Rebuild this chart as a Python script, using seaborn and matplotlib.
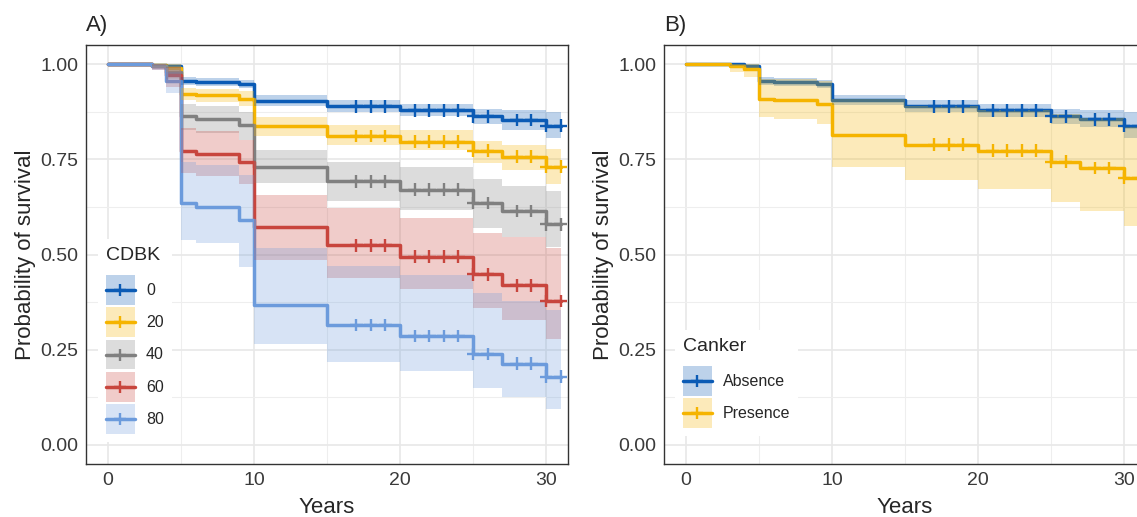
import numpy as np
import pandas as pd
import seaborn as sns
import matplotlib.pyplot as plt
from matplotlib.lines import Line2D
from matplotlib.patches import Patch
from matplotlib.legend_handler import HandlerLine2D
from matplotlib.ticker import MultipleLocator, FormatStrFormatter

# step times (years) shared by every curve, last one is end of follow-up
years = [0, 3, 4, 5, 6, 9, 10, 15, 20, 25, 27, 30, 31]
censor_years = [17, 18, 19, 21, 22, 23, 24, 25, 26, 28, 29, 30, 31]

# panel A: CDBK classes
cdbk_levels = ["0", "20", "40", "60", "80"]
cdbk_colors = ["#0b5bb5", "#f5b400", "#808080", "#c8453d", "#6c9bdc"]

cdbk0_surv = [1.0, 0.998, 0.995, 0.955, 0.953, 0.948, 0.903, 0.889, 0.879, 0.863, 0.853, 0.838, 0.838]
cdbk0_low = [1.0, 0.994, 0.990, 0.945, 0.943, 0.936, 0.889, 0.875, 0.863, 0.842, 0.827, 0.805, 0.805]
cdbk0_high = [1.0, 1.0, 1.0, 0.965, 0.963, 0.958, 0.918, 0.905, 0.896, 0.881, 0.879, 0.874, 0.874]

cdbk20_surv = [1.0, 0.997, 0.990, 0.922, 0.918, 0.909, 0.837, 0.811, 0.796, 0.773, 0.757, 0.731, 0.731]
cdbk20_low = [1.0, 0.990, 0.978, 0.905, 0.900, 0.890, 0.810, 0.788, 0.775, 0.741, 0.723, 0.684, 0.684]
cdbk20_high = [1.0, 1.0, 1.0, 0.938, 0.935, 0.928, 0.860, 0.840, 0.827, 0.797, 0.788, 0.777, 0.777]

cdbk40_surv = [1.0, 0.996, 0.980, 0.863, 0.857, 0.840, 0.731, 0.692, 0.670, 0.635, 0.614, 0.579, 0.579]
cdbk40_low = [1.0, 0.990, 0.960, 0.827, 0.820, 0.800, 0.688, 0.640, 0.618, 0.570, 0.545, 0.520, 0.520]
cdbk40_high = [1.0, 1.0, 0.995, 0.896, 0.890, 0.875, 0.775, 0.744, 0.731, 0.697, 0.679, 0.666, 0.666]

cdbk60_surv = [1.0, 0.995, 0.970, 0.773, 0.765, 0.742, 0.571, 0.524, 0.494, 0.448, 0.419, 0.378, 0.378]
cdbk60_low = [1.0, 0.985, 0.940, 0.715, 0.705, 0.684, 0.486, 0.439, 0.410, 0.360, 0.329, 0.278, 0.278]
cdbk60_high = [1.0, 1.0, 0.992, 0.831, 0.825, 0.800, 0.657, 0.621, 0.596, 0.557, 0.547, 0.516, 0.516]

cdbk80_surv = [1.0, 0.995, 0.955, 0.636, 0.626, 0.590, 0.367, 0.315, 0.286, 0.239, 0.213, 0.179, 0.179]
cdbk80_low = [1.0, 0.985, 0.925, 0.539, 0.530, 0.467, 0.264, 0.219, 0.193, 0.149, 0.127, 0.095, 0.095]
cdbk80_high = [1.0, 1.0, 0.990, 0.744, 0.735, 0.710, 0.518, 0.471, 0.445, 0.398, 0.379, 0.353, 0.353]

# panel B: canker
canker_levels = ["Absence", "Presence"]
canker_colors = ["#0b5bb5", "#f5b400"]

absence_surv = [1.0, 0.999, 0.996, 0.955, 0.953, 0.948, 0.905, 0.889, 0.879, 0.863, 0.855, 0.838, 0.838]
absence_low = [1.0, 0.996, 0.992, 0.945, 0.943, 0.937, 0.892, 0.873, 0.862, 0.842, 0.834, 0.805, 0.805]
absence_high = [1.0, 1.0, 1.0, 0.965, 0.963, 0.958, 0.920, 0.905, 0.896, 0.881, 0.879, 0.874, 0.874]

presence_surv = [1.0, 0.995, 0.987, 0.909, 0.906, 0.896, 0.814, 0.788, 0.773, 0.744, 0.727, 0.701, 0.701]
presence_low = [1.0, 0.980, 0.965, 0.860, 0.855, 0.842, 0.731, 0.695, 0.672, 0.638, 0.614, 0.575, 0.575]
presence_high = [1.0, 1.0, 1.0, 0.962, 0.960, 0.956, 0.908, 0.890, 0.880, 0.870, 0.858, 0.834, 0.834]


class CenteredLine(HandlerLine2D):
    """Legend line drawn through the middle of the key box."""

    def create_artists(self, legend, orig_handle, xdescent, ydescent, width, height, fontsize, trans):
        artists = super().create_artists(
            legend, orig_handle, xdescent, ydescent, width, height, fontsize, trans
        )
        for a in artists:
            a.set_ydata(np.full_like(a.get_xdata(), height / 2 - ydescent))
        return artists


def survplot(ax, levels, colors, survs, lows, highs, title, legend_title, legend_anchor):
    """Kaplan-Meier style step curves with confidence bands and censor marks."""
    palette = dict(zip(levels, colors))

    # long tables for seaborn
    curves = pd.concat(
        [pd.DataFrame({"time": years, "surv": s, "group": g}) for g, s in zip(levels, survs)]
    )
    marks = pd.concat(
        [
            pd.DataFrame(
                {
                    "time": censor_years,
                    "surv": np.asarray(s)[np.searchsorted(years, censor_years, side="right") - 1],
                    "group": g,
                }
            )
            for g, s in zip(levels, survs)
        ]
    )

    # step lines
    sns.lineplot(
        data=curves, x="time", y="surv", hue="group", palette=palette,
        estimator=None, sort=True, drawstyle="steps-post", linewidth=2.5,
        legend=False, ax=ax, zorder=2,
    )

    # confidence ribbons drawn over the lines (like ggsurvplot)
    for g, lo, hi in zip(levels, lows, highs):
        ax.fill_between(years, lo, hi, step="post", color=palette[g], alpha=0.27,
                        linewidth=0, zorder=3)

    # censor marks
    sns.scatterplot(
        data=marks, x="time", y="surv", hue="group", palette=palette,
        marker="+", s=85, linewidth=1.7, legend=False, ax=ax, zorder=4,
    )

    # axis settings
    ax.set(xlim=(-1.5, 31.5), ylim=(-0.05, 1.05))
    ax.set_xticks([0, 10, 20, 30])
    ax.set_yticks([0, 0.25, 0.5, 0.75, 1.0])
    ax.yaxis.set_major_formatter(FormatStrFormatter("%.2f"))
    ax.xaxis.set_minor_locator(MultipleLocator(5))
    ax.yaxis.set_minor_locator(MultipleLocator(0.125))
    ax.grid(True, which="major", color="#e8e8e8", linewidth=1.2, zorder=0)
    ax.grid(True, which="minor", color="#eeeeee", linewidth=0.8, zorder=0)
    ax.set_axisbelow(True)
    ax.tick_params(which="major", length=3.5, width=1, color="#333333",
                   labelsize=14, labelcolor="#3a3a3a", pad=2)
    ax.tick_params(which="minor", length=0)
    for sp in ax.spines.values():
        sp.set_color("#333333")
        sp.set_linewidth(1)
    ax.set_xlabel("Years", fontsize=16, labelpad=6)
    ax.set_ylabel("Probability of survival", fontsize=16, labelpad=3)
    ax.set_title(title, loc="left", fontsize=16, pad=10)

    # legend: ribbon box with line and cross
    handles = [
        (Patch(facecolor=palette[g], alpha=0.27, edgecolor="none"),
         Line2D([], [], color=palette[g], linewidth=2.5, marker="+", markersize=9,
                markeredgewidth=1.7))
        for g in levels
    ]
    leg = ax.legend(
        handles, levels, title=legend_title, loc="upper left",
        bbox_to_anchor=legend_anchor, borderaxespad=0, fontsize=11.5,
        title_fontsize=14, alignment="left", handlelength=1.8, handleheight=2.5,
        labelspacing=0.15, handletextpad=0.7, borderpad=0.5, frameon=True,
        facecolor="white", edgecolor="none", framealpha=1, fancybox=False,
        handler_map={Line2D: CenteredLine()},
    )
    # a bit more room between the title and the keys
    leg._legend_box.sep = 8
    leg.set_zorder(5)


sns.set_style("white")
plt.rcParams["font.family"] = ["Liberation Sans", "DejaVu Sans"]

fig = plt.figure(figsize=(11.37, 5.17), dpi=100)
axA = fig.add_axes([86 / 1137, 53 / 517, 482 / 1137, 419 / 517])
axB = fig.add_axes([664 / 1137, 53 / 517, 482 / 1137, 419 / 517])

survplot(
    axA, cdbk_levels, cdbk_colors,
    [cdbk0_surv, cdbk20_surv, cdbk40_surv, cdbk60_surv, cdbk80_surv],
    [cdbk0_low, cdbk20_low, cdbk40_low, cdbk60_low, cdbk80_low],
    [cdbk0_high, cdbk20_high, cdbk40_high, cdbk60_high, cdbk80_high],
    "A)", "CDBK", (0.025, 0.537),
)
survplot(
    axB, canker_levels, canker_colors,
    [absence_surv, presence_surv],
    [absence_low, presence_low],
    [absence_high, presence_high],
    "B)", "Canker", (0.023, 0.32),
)

fig.savefig("out.png", dpi=100)
